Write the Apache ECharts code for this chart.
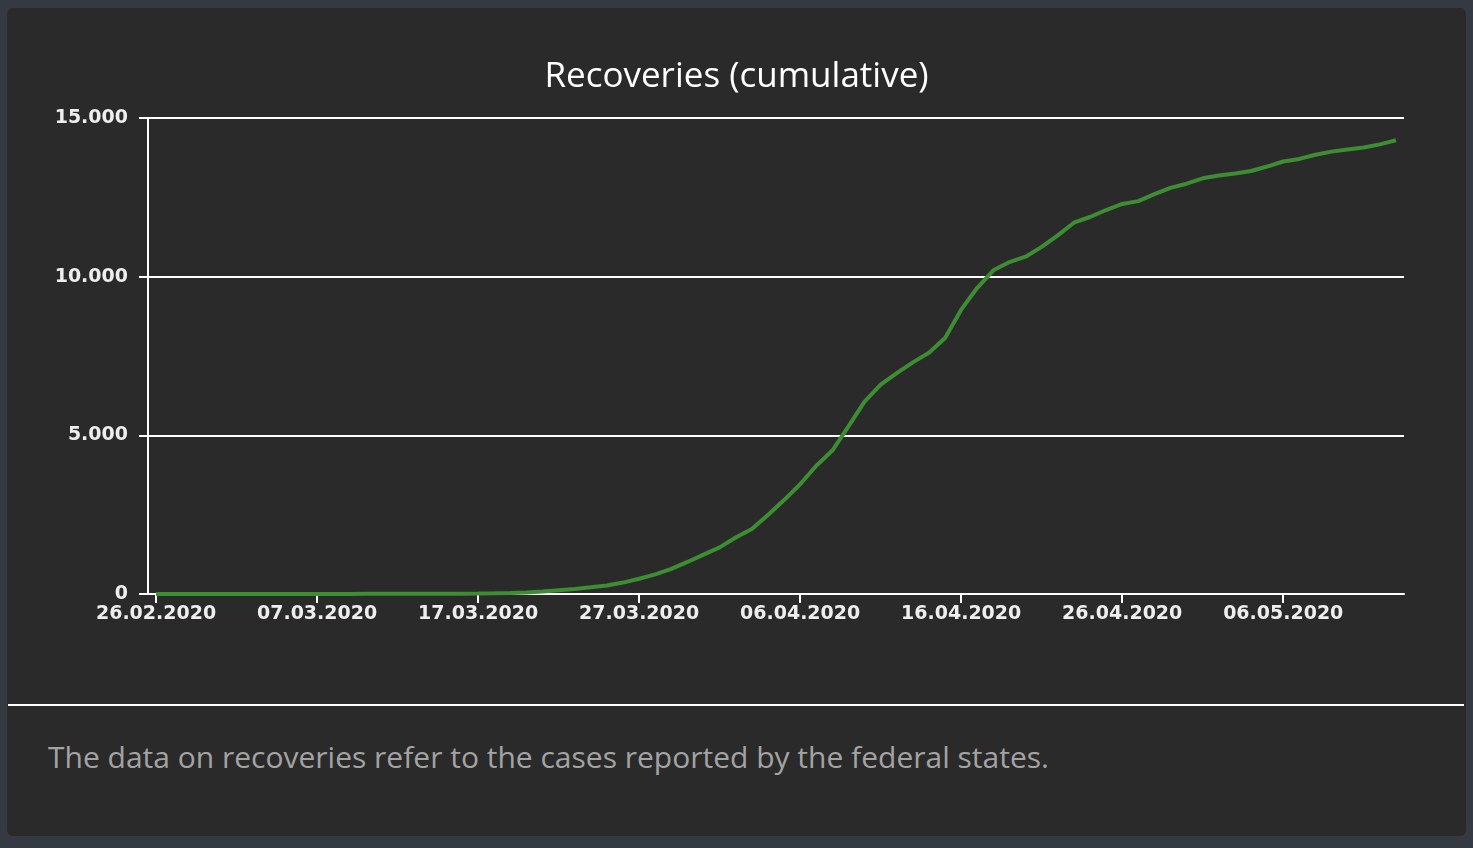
<!DOCTYPE html>
<html>
<head>
<meta charset="utf-8">
<script src="https://cdn.jsdelivr.net/npm/echarts@6/dist/echarts.min.js"></script>
<style>
  html, body { margin: 0; padding: 0; width: 1473px; height: 848px; background: #353a42; overflow: hidden; }
  #card { position: absolute; left: 7px; top: 8px; width: 1459px; height: 828px; background: #2a2a2a; border-radius: 6px; }
  #sep { position: absolute; left: 8px; top: 704px; width: 1456px; height: 2px; background: #ffffff; }
  #note { position: absolute; left: 48px; top: 736px; font-family: "Open Sans", "Noto Sans", sans-serif; font-size: 30px; color: #a3a3a3; white-space: nowrap; }
  #chart { position: absolute; left: 0; top: 0; width: 1473px; height: 848px; }
</style>
</head>
<body>
<div id="card"></div>
<div id="sep"></div>
<div id="note">The data on recoveries refer to the cases reported by the federal states.</div>
<div id="chart"></div>
<script>
const titleText = "Recoveries (cumulative)";
const dates = [
  "26.02.2020","27.02.2020","28.02.2020","29.02.2020",
  "01.03.2020","02.03.2020","03.03.2020","04.03.2020","05.03.2020","06.03.2020","07.03.2020","08.03.2020","09.03.2020","10.03.2020",
  "11.03.2020","12.03.2020","13.03.2020","14.03.2020","15.03.2020","16.03.2020","17.03.2020","18.03.2020","19.03.2020","20.03.2020",
  "21.03.2020","22.03.2020","23.03.2020","24.03.2020","25.03.2020","26.03.2020","27.03.2020","28.03.2020","29.03.2020","30.03.2020","31.03.2020",
  "01.04.2020","02.04.2020","03.04.2020","04.04.2020","05.04.2020","06.04.2020","07.04.2020","08.04.2020","09.04.2020","10.04.2020",
  "11.04.2020","12.04.2020","13.04.2020","14.04.2020","15.04.2020","16.04.2020","17.04.2020","18.04.2020","19.04.2020","20.04.2020",
  "21.04.2020","22.04.2020","23.04.2020","24.04.2020","25.04.2020","26.04.2020","27.04.2020","28.04.2020","29.04.2020","30.04.2020",
  "01.05.2020","02.05.2020","03.05.2020","04.05.2020","05.05.2020","06.05.2020","07.05.2020","08.05.2020","09.05.2020","10.05.2020",
  "11.05.2020","12.05.2020","13.05.2020"
];
const recoveries = [
  0, 0, 0, 0, 0, 0, 0, 0, 0, 0,
  0, 2, 2, 4, 6, 6, 6, 8, 8, 9,
  14, 20, 30, 45, 80, 120, 160, 210, 270, 360,
  480, 620, 790, 1010, 1240, 1470, 1780, 2050, 2490, 2960,
  3460, 4040, 4520, 5280, 6060, 6600, 6960, 7300, 7600, 8070,
  8960, 9650, 10200, 10460, 10630, 10940, 11300, 11700, 11880, 12100,
  12290, 12380, 12600, 12800, 12930, 13100, 13190, 13250, 13330, 13470,
  13630, 13710, 13840, 13940, 14010, 14070, 14170, 14300
];
const yTicks = [0, 5000, 10000, 15000];

const chart = echarts.init(document.getElementById('chart'), null, { renderer: 'canvas' });
const axisFont = '"DejaVu Sans", Verdana, sans-serif';
chart.setOption({
  backgroundColor: 'transparent',
  animation: false,
  title: {
    text: titleText,
    left: 'center',
    top: 55,
    textStyle: { color: '#ffffff', fontSize: 35, fontWeight: 'normal', fontFamily: '"Open Sans", "Noto Sans", sans-serif' }
  },
  grid: { left: 148, right: 69, top: 118, bottom: 254, containLabel: false },
  xAxis: {
    type: 'category',
    data: dates,
    boundaryGap: true,
    axisLine: { show: true, lineStyle: { color: '#ffffff', width: 2 } },
    axisTick: { show: true, alignWithLabel: true, interval: 9, length: 9, lineStyle: { color: '#ffffff', width: 2 } },
    axisLabel: { interval: 9, color: '#eeeeee', fontSize: 19, fontWeight: 'bold', fontFamily: axisFont, margin: 11 },
    splitLine: { show: false }
  },
  yAxis: {
    type: 'value',
    min: yTicks[0],
    max: yTicks[yTicks.length - 1],
    interval: 5000,
    axisLine: { show: true, lineStyle: { color: '#ffffff', width: 2 } },
    axisTick: { show: true, length: 9, lineStyle: { color: '#ffffff', width: 2 } },
    axisLabel: {
      color: '#eeeeee', fontSize: 19, fontWeight: 'bold', fontFamily: axisFont, margin: 20,
      formatter: v => String(v).replace(/\B(?=(\d{3})+(?!\d))/g, '.')
    },
    splitLine: { show: true, lineStyle: { color: '#ffffff', width: 2 } }
  },
  series: [{
    type: 'line',
    data: recoveries,
    showSymbol: false,
    symbol: 'none',
    smooth: false,
    lineStyle: { color: '#3d8d32', width: 4 },
    z: 3
  }]
});
</script>
</body>
</html>
